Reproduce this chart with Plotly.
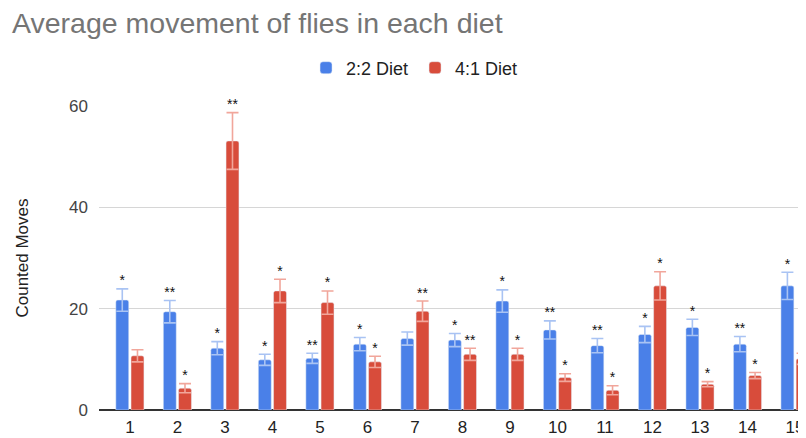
import plotly.graph_objects as go

# flies / groups on the x axis
groups = [str(i) for i in range(1, 16)]

# mean counted moves per diet
diet_22 = [21.7, 19.4, 12.2, 9.9, 10.2, 13.0, 14.1, 13.8, 21.5, 15.8, 12.7, 14.9, 16.3, 13.0, 24.5]
diet_41 = [10.7, 4.3, 53.1, 23.5, 21.2, 9.5, 19.5, 11.0, 11.0, 6.4, 3.9, 24.5, 5.1, 6.8, 10.1]

# error (standard error) per bar
err_22 = [2.2, 2.2, 1.3, 1.1, 1.0, 1.3, 1.3, 1.3, 2.2, 1.8, 1.4, 1.6, 1.6, 1.5, 2.7]
err_41 = [1.2, 0.9, 5.6, 2.3, 2.3, 1.1, 2.0, 1.2, 1.2, 0.75, 0.9, 2.8, 0.5, 0.6, 1.1]

# significance labels
sig_22 = ["*", "**", "*", "*", "**", "*", "", "*", "*", "**", "**", "*", "*", "**", "*"]
sig_41 = ["", "*", "**", "*", "*", "*", "**", "**", "*", "*", "*", "*", "*", "*", "*"]

BLUE = "#4a80e8"
RED = "#d84c3b"
FONT = "Liberation Sans, Arial, sans-serif"

fig = go.Figure()

fig.add_trace(go.Bar(
    x=groups, y=diet_22, name="2:2 Diet", offsetgroup="a",
    marker=dict(color=BLUE, cornerradius=2),
    error_y=dict(type="data", array=err_22, color="#a9c3f3", thickness=1.6, width=6),
))
fig.add_trace(go.Bar(
    x=groups, y=diet_41, name="4:1 Diet", offsetgroup="b",
    marker=dict(color=RED, cornerradius=2),
    error_y=dict(type="data", array=err_41, color="#f1a69b", thickness=1.6, width=6),
))

for means, errs, sig, grp in [(diet_22, err_22, sig_22, "a"), (diet_41, err_41, sig_41, "b")]:
    fig.add_trace(go.Scatter(
        x=groups, y=[m + e for m, e in zip(means, errs)], text=sig,
        mode="text", textposition="top center", offsetgroup=grp,
        textfont=dict(size=14, color="#111111", family=FONT),
        showlegend=False, cliponaxis=False, hoverinfo="skip",
    ))

# the page body adds an 8px offset, so everything is shifted up/left by 8
fig.update_layout(
    width=806, height=438,
    margin=dict(l=91, r=0, t=98, b=36),
    paper_bgcolor="white", plot_bgcolor="white",
    font=dict(family=FONT),
    title=dict(text="Average movement of flies in each diet", x=4 / 806, xanchor="left",
               y=1 - 15 / 438, yanchor="middle",
               font=dict(size=28.5, color="#757575", family=FONT)),
    legend=dict(orientation="h", xref="container", yref="container",
                x=0.505, xanchor="center", y=1 - 60 / 438, yanchor="middle",
                font=dict(size=18, color="#222222"), entrywidth=64),
    barmode="group", scattermode="group",
    bargap=0.36, bargroupgap=0.15,
    showlegend=True,
)

fig.update_xaxes(type="category", range=[-0.65, 14.40], showgrid=False,
                 tickfont=dict(size=17, color="#222222"), ticks="", showline=False,
                 ticklabelstandoff=5)
fig.update_yaxes(range=[0, 60], tickvals=[0, 20, 40, 60], gridcolor="#d6d6d6", gridwidth=1,
                 zeroline=True, zerolinecolor="#333333", zerolinewidth=2,
                 tickfont=dict(size=17, color="#444444"), ticks="", ticklabelstandoff=10,
                 title=dict(text="Counted Moves", font=dict(size=17, color="#222222"), standoff=36))

fig.write_html("out.html")
